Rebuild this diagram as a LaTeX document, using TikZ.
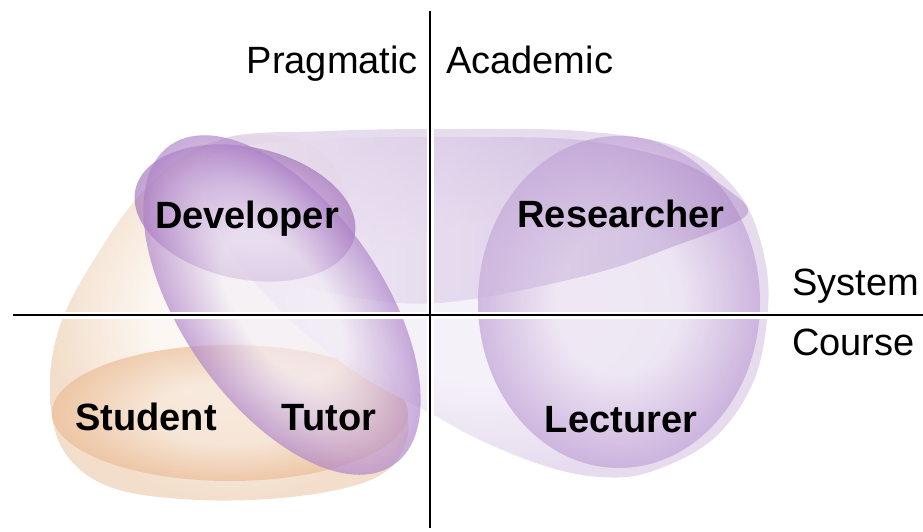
\documentclass[tikz,border=0pt]{standalone}
\usepackage{fontspec}
\setmainfont{Liberation Sans}
\definecolor{peachIn}{HTML}{FCF6F0}
\definecolor{peachOut}{HTML}{F1D9C2}
\definecolor{studIn}{HTML}{F6E3D2}
\definecolor{studOut}{HTML}{EBBA92}
\definecolor{lavIn}{HTML}{F4EFF8}
\definecolor{lavOut}{HTML}{E2D6EC}
\definecolor{lecIn}{HTML}{EDE5F3}
\definecolor{lecOut}{HTML}{C3A5D8}
\definecolor{resOut}{HTML}{A27BC1}
\definecolor{devIn}{HTML}{C7A5D8}
\definecolor{devOut}{HTML}{9964B4}
\definecolor{tutIn}{HTML}{F3EEF7}
\definecolor{tutOut}{HTML}{AC80C8}
\colorlet{rimin}{white}
\colorlet{rimout}{black}
% pale interior with a darker band along the edge
\pgfdeclareradialshading[rimin,rimout]{rim}{\pgfpoint{0bp}{0bp}}{%
  color(0bp)=(rimin); color(11bp)=(rimin); color(25bp)=(rimout); color(50bp)=(rimout)}
\begin{document}
\begin{tikzpicture}[x=1pt,y=-1pt,
  lbl/.style={font=\fontsize{38}{40}\selectfont, inner sep=0pt, text=black},
  role/.style={font=\fontsize{38}{40}\selectfont\bfseries, inner sep=0pt, text=black},
  axisline/.style={line width=2.8pt, black},
  halo/.style={line width=7pt, white},
  rimfill/.style n args={3}{/utils/exec={\colorlet{rimin}{#1}\colorlet{rimout}{#2}},
    shading=rim, opacity=#3},
]
\useasboundingbox (0,0) rectangle (923,531);
\fill[white] (0,0) rectangle (923,531);

% pale pragmatic region
\shade[rimfill={peachIn}{peachOut}{0.85}]
  plot[smooth cycle, tension=0.6] coordinates {(250,135) (315,147) (347,195) (355,265) (378,340)
    (405,405) (405,445) (375,478) (300,496) (200,500) (110,487) (62,448) (50,385) (62,320)
    (100,250) (140,195) (190,152)};

% student
\shade[rimfill={studIn}{studOut}{0.65}] (230,413) ellipse (178 and 68);

% wide academic region
\shade[rimfill={lavIn}{lavOut}{0.85}]
  plot[smooth cycle, tension=0.6] coordinates {(220,140) (330,131) (450,129) (580,131) (680,148)
    (740,195) (765,260) (767,320) (752,385) (712,440) (650,472) (600,477) (545,466) (480,440)
    (430,413) (360,375) (290,320) (230,250) (205,190)};

% lecturer
\shade[rimfill={lecIn}{lecOut}{0.72}] (619,302) ellipse (141 and 166);

% researcher
\shade[left color=white, middle color=white!72!resOut, right color=resOut, opacity=0.42]
  plot[smooth cycle, tension=0.55] coordinates {(150,205) (220,152) (330,139) (450,137) (580,140)
    (680,162) (735,195) (748,212) (730,225) (680,244) (600,272) (480,298) (400,303) (300,286)
    (210,252)};

% developer
\shade[rimfill={devIn}{devOut}{0.6},
  transform canvas={shift={(245,213)}, rotate=-12}] (0,0) ellipse (112 and 66);

% tutor
\shade[rimfill={tutIn}{tutOut}{0.65},
  transform canvas={shift={(282,305)}, rotate=-55}] (0,0) ellipse (195 and 100);

% axes
\coordinate (vtop) at (430,11);
\coordinate (vbot) at (430,528);
\coordinate (hleft) at (13,315);
\coordinate (hright) at (923,315);
\draw[halo] (vtop) -- (vbot);
\draw[halo] (hleft) -- (hright);
\draw[axisline] (vtop) -- (vbot);
\draw[axisline] (hleft) -- (hright);

% axis labels
\node[lbl, anchor=base east] (prag) at (418,73) {Pragmatic};
\node[lbl, anchor=base west] (acad) at (446,73) {Academic};
\node[lbl, anchor=base west] (sys) at (792,295) {System};
\node[lbl, anchor=base west] (crs) at (792,355) {Course};

% roles
\node[role, anchor=base] (dev) at (247,228) {Developer};
\node[role, anchor=base] (res) at (621,227) {Researcher};
\node[role, anchor=base] (lec) at (621,432) {Lecturer};
\node[role, anchor=base] (stu) at (146,430) {Student};
\node[role, anchor=base] (tut) at (329,430) {Tutor};
\end{tikzpicture}
\end{document}
